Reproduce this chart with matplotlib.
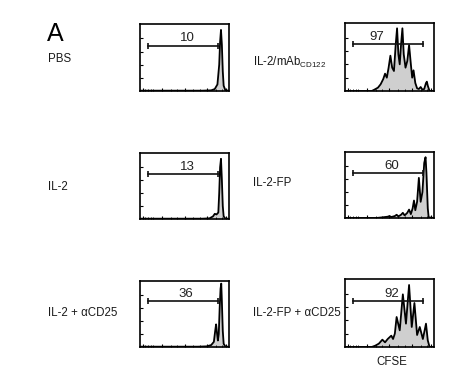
import matplotlib
matplotlib.use("Agg")
import matplotlib.pyplot as plt

plt.rcParams['font.family'] = ['Liberation Sans', 'DejaVu Sans']

# CFSE histograms, x = channel (0-100), y = % of max height
pbs_x = [0, 30, 70, 80, 84, 87, 89, 90, 91, 92, 93, 94, 96, 100]
pbs_y = [0.5, 0.5, 0.5, 1, 3, 10, 40, 75, 93, 70, 30, 8, 1, 0.5]

il2_x = [0, 70, 78, 82, 84, 86, 88, 89, 90, 91, 92, 93, 94, 96, 100]
il2_y = [0.5, 0.5, 1, 4, 8, 7, 10, 40, 80, 93, 60, 20, 4, 0.5, 0.5]

il2_acd25_x = [0, 65, 75, 80, 83, 84.5, 85.5, 86.5, 87.5, 88.5, 89.5, 90.5, 91.3, 92, 93, 94, 96, 100]
il2_acd25_y = [0.5, 0.5, 1, 3, 8, 25, 35, 22, 10, 20, 60, 90, 98, 70, 25, 5, 0.5, 0.5]

mab_x = [0, 30, 33, 37, 40, 43, 45, 47, 49, 51, 53, 55, 57, 58.5, 60, 61.5, 63, 64.5, 66, 68,
         70, 72, 74, 75.5, 77, 79, 81, 83, 85, 87, 89, 91, 92, 93, 95, 100]
mab_y = [0, 0, 2, 5, 10, 18, 26, 20, 35, 53, 35, 30, 70, 94, 55, 40, 70, 94, 55, 35,
         45, 69, 40, 20, 31, 12, 4, 3, 6, 2, 3, 12, 14, 8, 0, 0]

fp_x = [0, 35, 42, 48, 50, 52, 56, 58, 60, 63, 65, 67, 70, 72, 74, 76, 77.5, 79, 81, 83,
        85, 87, 89, 90.5, 91.5, 93, 94, 100]
fp_y = [0, 0, 1, 2, 3, 1.5, 3, 5, 2.5, 5, 8, 4, 8, 13, 6, 15, 27, 12, 25, 62,
        25, 40, 85, 94, 70, 15, 1, 0]

fp_acd25_x = [0, 30, 34, 38, 42, 45, 48, 52, 54, 56, 58, 61.5, 65, 68.5, 72, 75, 78, 81,
              84, 87.5, 91, 93, 95, 100]
fp_acd25_y = [0, 0, 2, 5, 11, 7, 12, 17, 12, 20, 45, 25, 79, 35, 93, 30, 66, 18,
              30, 12, 35, 10, 0, 0]

names = ["PBS", "IL-2/mAb$_{\\mathregular{CD122}}$", "IL-2", "IL-2-FP",
         "IL-2 + \u03b1CD25", "IL-2-FP + \u03b1CD25"]
gate_pct = ["10", "97", "13", "60", "36", "92"]
hists = [(pbs_x, pbs_y), (mab_x, mab_y), (il2_x, il2_y), (fp_x, fp_y),
         (il2_acd25_x, il2_acd25_y), (fp_acd25_x, fp_acd25_y)]

W, H = 477, 387
fig = plt.figure(figsize=(W / 100, H / 100), dpi=100)

# pixel boxes of the histogram panels (left, top, right, bottom)
boxes = [(140, 24, 229, 91), (345, 23, 434, 91),
         (140, 153, 229, 219), (345, 152, 434, 218),
         (140, 281, 229, 347), (345, 279, 434, 347)]
label_pos = [(48, 59), (253, 62), (48, 187), (253, 183), (48, 313), (253, 313)]
num_x = [53, 36, 53, 52, 52, 52]
gate_y = [69, 70, 69, 69, 71, 69]

for i, (hx, hy) in enumerate(hists):
    l, t, r, b = boxes[i]
    ax = fig.add_axes([l / W, 1 - b / H, (r - l) / W, (b - t) / H])
    ax.fill_between(hx, hy, 0, color="#cfcfcf", lw=0)
    ax.plot(hx, hy, color="black", lw=1.3)
    ax.plot([9, 88], [gate_y[i], gate_y[i]], color="#111111", lw=1.2,
            marker="|", markersize=5, markeredgewidth=1.2)
    ax.text(num_x[i], gate_y[i] + 2, gate_pct[i], ha="center", va="bottom",
            fontsize=9.5, color="#222222")
    ax.set_xlim(0, 100)
    ax.set_ylim(0, 102)
    ax.set_yticks([20, 40, 60, 80])
    ax.set_xticks([3, 25, 50, 75, 97])
    ax.set_xticks([6, 9, 12, 15, 35, 42, 60, 67, 85, 92], minor=True)
    ax.tick_params(direction="in", length=2.5, width=0.8, labelbottom=False, labelleft=False)
    ax.tick_params(which="minor", direction="in", length=1.5, width=0.6)
    for s in ax.spines.values():
        s.set_linewidth(1.2)
    lx, ly = label_pos[i]
    fig.text(lx / W, 1 - ly / H, names[i], ha="left", va="center", fontsize=8.3,
             color="#1a1a1a")

fig.text(47 / W, 1 - 34 / H, "A", ha="left", va="center", fontsize=18)
fig.text(392 / W, 1 - 362 / H, "CFSE", ha="center", va="center", fontsize=8.3,
         color="#1a1a1a")

fig.savefig("out.png", dpi=100)
